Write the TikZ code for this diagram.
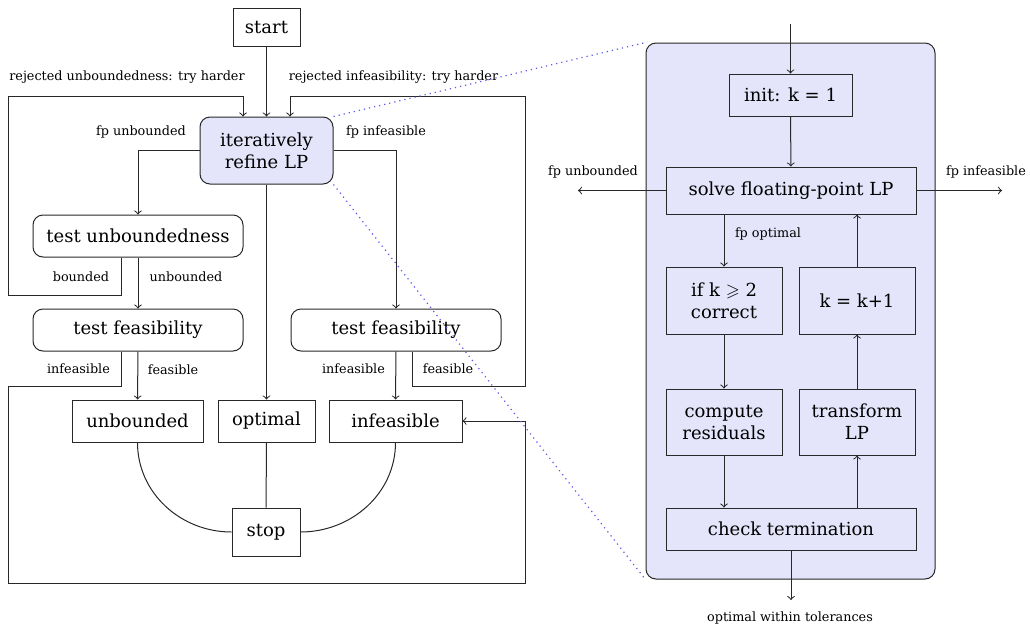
\documentclass[tikz,border=0pt]{standalone}
\usepackage{amssymb}
\usepackage{fontspec}
\setmainfont{DejaVu Serif}
\usetikzlibrary{calc}

\definecolor{panelfill}{RGB}{228,228,250}
\definecolor{zoomline}{RGB}{90,90,240}
\definecolor{ink}{RGB}{40,40,40}

\tikzset{
  boxsize/.style 2 args={minimum width={#1*0.5pt}, minimum height={#2*0.5pt}},
  box/.style={draw=ink, inner sep=0pt, align=center, font=\fontsize{9}{11}\selectfont},
  rbox/.style={box, rounded corners=5pt},
  inbox/.style={box, fill=panelfill},
  lbl/.style={font=\fontsize{6.4}{7.5}\selectfont, inner sep=0pt},
  flow/.style={->, draw=ink},
  zoom/.style={draw=zoomline, dotted, line width=0.6pt},
}

\begin{document}
\begin{tikzpicture}[x=0.5pt, y=-0.5pt, line width=0.5pt]
\useasboundingbox (0,0) rectangle (1030,628);

% ---------------- overall flow ----------------
\node[box, boxsize={67}{38}]  (start)  at (266.5,27)  {start};
\node[rbox, fill=panelfill, boxsize={133}{67}] (refine) at (266.5,150.5) {iteratively\\refine LP};
\node[rbox, boxsize={210}{42}] (tunb)   at (138,236)   {test unboundedness};
\node[rbox, boxsize={210}{42}] (tfeasL) at (138,330)   {test feasibility};
\node[rbox, boxsize={210}{42}] (tfeasR) at (396,330)   {test feasibility};
\node[box, boxsize={131}{42}]  (unb)    at (137.5,421) {unbounded};
\node[box, boxsize={97}{42}]   (opt)    at (266.5,421) {optimal};
\node[box, boxsize={133}{42}]  (inf)    at (395.5,421) {infeasible};
\node[box, boxsize={68}{48}]   (stop)   at (266,532)   {stop};

% columns and rows used by the feedback loops
\coordinate (colA) at (121,0);
\coordinate (colB) at (412,0);
\coordinate (colL) at (8,0);
\coordinate (colR) at (525,0);
\coordinate (colU) at (243,0);
\coordinate (colI) at (290,0);
\coordinate (rowTop) at (0,96);
\coordinate (rowBd) at (0,295);
\coordinate (rowFs) at (0,386);
\coordinate (rowBot) at (0,583);

\draw[flow] (start) -- (refine);
\draw[flow] (refine.west) -| (tunb.north);
\draw[flow] (refine.east) -| (tfeasR.north);
\draw[flow] (refine) -- (opt);
\draw[flow] (tunb) -- (tfeasL);
\draw[flow] (tfeasL) -- (unb);
\draw[flow] (tfeasR) -- (inf);

% bounded: back to refinement
\draw[flow] (tunb.south -| colA) -- (colA |- rowBd) -- (colL |- rowBd)
  -- (colL |- rowTop) -- (colU |- rowTop) -- (refine.north -| colU);
% feasible after fp infeasible: back to refinement
\draw[flow] (tfeasR.south -| colB) -- (colB |- rowFs) -- (colR |- rowFs)
  -- (colR |- rowTop) -- (colI |- rowTop) -- (refine.north -| colI);
% infeasible after fp unbounded
\draw[flow] (tfeasL.south -| colA) -- (colA |- rowFs) -- (colL |- rowFs)
  -- (colL |- rowBot) -- (colR |- rowBot) -- (colR |- inf.east) -- (inf.east);

\draw[ink] (opt) -- (stop);
\draw[ink] (unb.south) to[out=-90, in=180] (stop.west);
\draw[ink] (inf.south) to[out=-90, in=0] (stop.east);

\node[lbl] at (127,77)   {rejected unboundedness: try harder};
\node[lbl] at (393.5,77) {rejected infeasibility: try harder};
\node[lbl] at (141,132)  {fp unbounded};
\node[lbl] at (386,132)  {fp infeasible};
\node[lbl] at (81,277)   {bounded};
\node[lbl] at (186,277)  {unbounded};
\node[lbl] at (78.5,369) {infeasible};
\node[lbl] at (173,370)  {feasible};
\node[lbl] at (353.5,369){infeasible};
\node[lbl] at (448,369)  {feasible};

% ---------------- detail of the refinement ----------------
\node[draw=ink, fill=panelfill, rounded corners=5pt, inner sep=0pt, boxsize={289}{536}] (panel) at (790.5,311) {};

\node[inbox, boxsize={123}{42}] (init)  at (790.5,95)  {init: k = 1};
\node[inbox, boxsize={250}{47}] (solve) at (791,190.5) {solve floating-point LP};
\node[inbox, boxsize={116}{67}] (ifk)   at (724,300.5) {if k $\geqslant$ 2\\correct};
\node[inbox, boxsize={116}{67}] (kk)    at (857,300.5) {k = k+1};
\node[inbox, boxsize={116}{66}] (comp)  at (724,422)   {compute\\residuals};
\node[inbox, boxsize={116}{66}] (trans) at (857,422)   {transform\\LP};
\node[inbox, boxsize={250}{42}] (check) at (791,529)   {check termination};

\coordinate (inTop)  at (790.5,24);
\coordinate (outL)   at (578,190.5);
\coordinate (outR)   at (1002,190.5);
\coordinate (outBot) at (791,600);

\draw[flow] (inTop) -- (init);
\draw[flow] (init) -- (solve);
\draw[flow] (solve.west) -- (outL);
\draw[flow] (solve.east) -- (outR);
\draw[flow] (solve.south -| ifk.north) -- (ifk.north);
\draw[flow] (ifk) -- (comp);
\draw[flow] (comp.south) -- (check.north -| comp.south);
\draw[flow] (check.north -| trans.south) -- (trans.south);
\draw[flow] (trans) -- (kk);
\draw[flow] (kk.north) -- (solve.south -| kk.north);
\draw[flow] (check) -- (outBot);

\node[lbl] at (593,172)  {fp unbounded};
\node[lbl] at (986,172)  {fp infeasible};
\node[lbl] at (768,234)  {fp optimal};
\node[lbl] at (790,618)  {optimal within tolerances};

% zoom guides
\draw[zoom] (refine.north east) -- (panel.north west);
\draw[zoom] (refine.south east) -- (panel.south west);
\end{tikzpicture}
\end{document}
